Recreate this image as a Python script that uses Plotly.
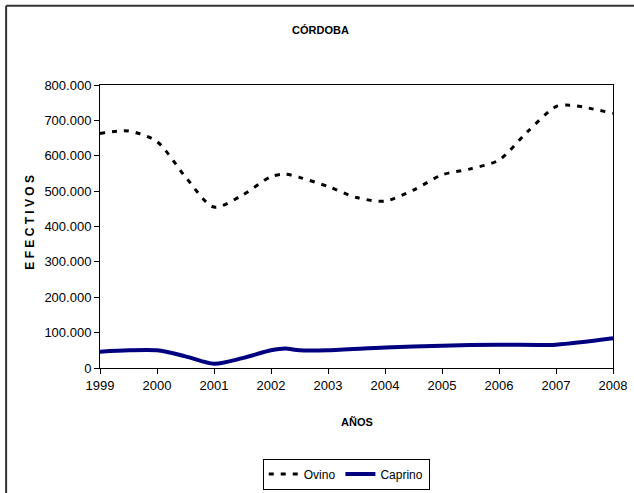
import plotly.graph_objects as go

# Ovino (sheep) headcount
ovino_x = [1999, 1999.5, 2000, 2000.5, 2001, 2001.5, 2002, 2002.25, 2002.5, 2003,
           2003.5, 2004, 2004.5, 2005, 2005.5, 2006, 2006.5, 2007, 2007.25, 2007.5, 2008]
ovino_y = [663000, 670000, 640000, 540000, 455000, 489000, 541000, 548000, 539000, 513000,
           482000, 472000, 503000, 546000, 563000, 588000, 668000, 739000, 743000, 737000, 720000]

# Caprino (goat) headcount
caprino_x = [1999, 1999.5, 2000, 2000.5, 2001, 2001.5, 2002, 2002.25, 2002.5, 2003,
             2004, 2005, 2006, 2007, 2008]
caprino_y = [46000, 50000, 50000, 33000, 12000, 28000, 50000, 55000, 50000, 50000,
             58000, 63000, 66000, 66000, 84000]

year_ticks = list(range(1999, 2009))

font = "Arial, Liberation Sans, sans-serif"

fig = go.Figure()
fig.add_trace(go.Scatter(
    x=ovino_x, y=ovino_y, name="Ovino", mode="lines",
    line=dict(color="black", width=3, dash="5px,7px", shape="spline", smoothing=0.8),
))
fig.add_trace(go.Scatter(
    x=caprino_x, y=caprino_y, name="Caprino", mode="lines",
    line=dict(color="#000080", width=4, shape="spline", smoothing=0.8),
))

fig.update_layout(
    width=634, height=493,
    margin=dict(l=100, r=21, t=85, b=125, autoexpand=False),
    paper_bgcolor="white", plot_bgcolor="white",
    separators=",.",
    font=dict(family=font, size=13, color="black"),
    showlegend=True,
    legend=dict(
        orientation="h", x=0.48, y=-0.32, xanchor="center", yanchor="top",
        bordercolor="black", borderwidth=1, font=dict(size=12),
        itemwidth=30, tracegroupgap=0,
    ),
    xaxis=dict(
        range=[1999, 2008], tickvals=year_ticks, ticktext=[str(v) for v in year_ticks],
        showgrid=False, zeroline=False, showline=True, linecolor="black", linewidth=1,
        mirror=True, ticks="outside", ticklen=5, tickcolor="black",
        tickfont=dict(size=13),
    ),
    yaxis=dict(
        range=[0, 800000], dtick=100000, tickformat=",.0f",
        showgrid=False, zeroline=False, showline=True, linecolor="black", linewidth=1,
        mirror=True, ticks="outside", ticklen=5, tickcolor="black",
        tickfont=dict(size=13),
    ),
    annotations=[
        dict(text="<b>CÓRDOBA</b>", x=0.43, y=1.195, xref="paper", yref="paper",
             showarrow=False, font=dict(size=11), xanchor="center", yanchor="middle"),
        dict(text="<b>AÑOS</b>", x=0.5, y=-0.19, xref="paper", yref="paper",
             showarrow=False, font=dict(size=11), xanchor="center", yanchor="middle"),
        dict(text="<b>E F E C T I V O S</b>", x=-0.137, y=0.516, xref="paper", yref="paper",
             showarrow=False, textangle=-90, font=dict(size=12),
             xanchor="center", yanchor="middle"),
    ],
    shapes=[
        dict(type="line", xref="paper", yref="paper", x0=-0.183, x1=1.1, y0=1.28, y1=1.28,
             line=dict(color="#333333", width=2)),
        dict(type="line", xref="paper", yref="paper", x0=-0.183, x1=-0.183, y0=1.28, y1=-0.5,
             line=dict(color="#333333", width=2)),
    ],
)

# drop the default 8px page margin so the figure sits at the window's corner
fig.write_html("out.html", config={"displayModeBar": False},
               post_script="document.body.style.margin='0';document.body.style.overflow='hidden';")
